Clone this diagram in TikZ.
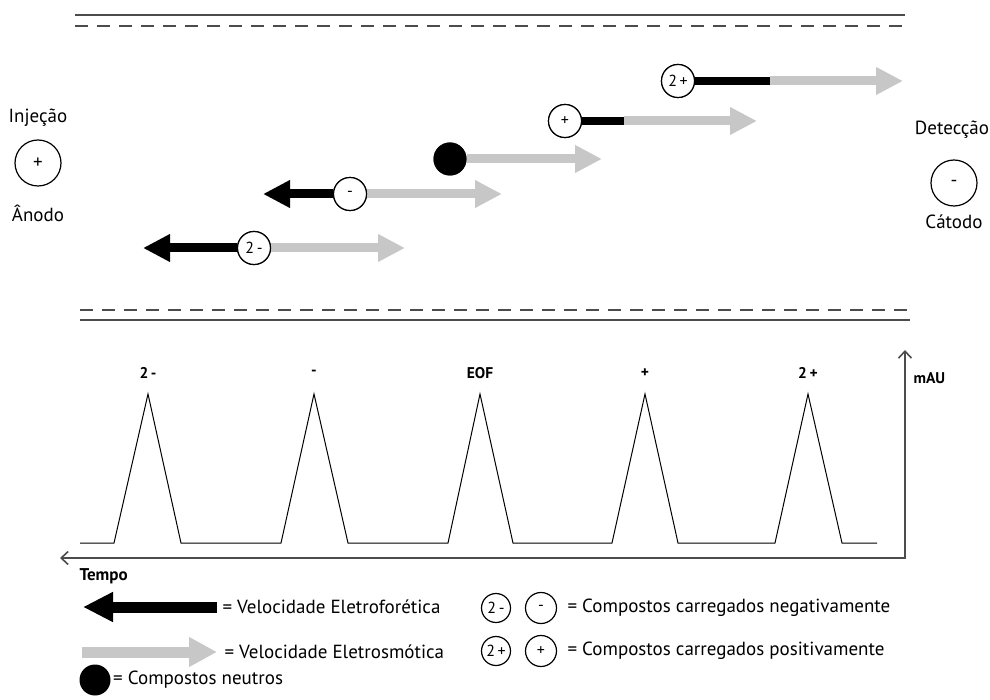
\documentclass[tikz,border=0pt]{standalone}
\usepackage{fontspec}
\setmainfont{PT Sans}
\usetikzlibrary{arrows.meta,positioning}

\tikzset{
  ion/.style={circle, draw, line width=1.2pt, fill=white, inner sep=0pt,
    minimum size=33pt, font=\fontsize{16}{17}\selectfont},
  electrode/.style={circle, draw, line width=1.2pt, inner sep=0pt,
    minimum size=46pt, font=\fontsize{19}{20}\selectfont},
  neutral/.style={circle, fill=black, inner sep=0pt, minimum size=33pt},
  eof/.style={line width=9pt, black!22, -{Triangle[length=27pt,width=26pt]}},
  emf/.style={line width=9pt, black, -{Triangle[length=27pt,width=26pt]}},
  emfbar/.style={line width=8pt, black},
  wall/.style={line width=1.5pt, black!70},
  walldash/.style={wall, dash pattern=on 13pt off 9pt},
  axis/.style={line width=1.6pt, black!70},
  lbl/.style={font=\fontsize{19}{22}\selectfont},
  peak/.style={font=\bfseries\fontsize{15.5}{17}\selectfont},
  key/.style={anchor=west, font=\fontsize{19}{22}\selectfont},
}

\begin{document}
\begin{tikzpicture}[x=1pt, y=-1pt]
  \useasboundingbox (0,0) rectangle (990,700);

  % capillary walls
  \draw[wall] (75,15) -- (905,15);
  \draw[walldash] (75,26) -- (905,26);
  \draw[walldash] (80,310) -- (910,310);
  \draw[wall] (80,320) -- (910,320);

  % electrodes
  \node[electrode] (anode) at (38,163) {+};
  \node[lbl] (inj) at (38,118) {Injeção};
  \node[lbl] (anodo) at (38,213) {Ânodo};
  \node[electrode] (cathode) at (954,183) {-};
  \node[lbl] (det) at (952,130) {Detecção};
  \node[lbl] (catodo) at (954,222) {Cátodo};

  % end points of the velocity arrows
  \coordinate (mmL) at (143,248);  \coordinate (mmR) at (405,248);
  \coordinate (mL)  at (263,194);  \coordinate (mR)  at (502,194);
  \coordinate (nR)  at (602,159);
  \coordinate (pK)  at (624,121);  \coordinate (pR)  at (757,121);
  \coordinate (ppK) at (770,81);   \coordinate (ppR) at (903,81);

  % analytes
  \node[ion] (mm) at (254,248) {2\,-};
  \draw[eof] (mm.east) -- (mmR);
  \draw[emf] (mm.west) -- (mmL);
  \node[ion] at (mm) {2\,-};

  \node[ion] (m) at (350,194) {-};
  \draw[eof] (m.east) -- (mR);
  \draw[emf] (m.west) -- (mL);
  \node[ion] at (m) {-};

  \node[neutral] (n) at (450,159) {};
  \draw[eof] (n.east) -- (nR);
  \node[neutral] at (n) {};

  \node[ion] (p) at (565,121) {+};
  \draw[eof] (pK) -- (pR);
  \draw[emfbar] (p.east) -- (pK);
  \node[ion] at (p) {+};

  \node[ion] (pp) at (678,81) {2\,+};
  \draw[eof] (ppK) -- (ppR);
  \draw[emfbar] (pp.east) -- (ppK);
  \node[ion] at (pp) {2\,+};

  % electropherogram
  \draw[line width=1pt]
    (80,543) -- (114,543) -- (148,394) -- (181,543)
    -- (281,543) -- (314,394) -- (348,543)
    -- (448,543) -- (480,394) -- (513,543)
    -- (612,543) -- (645,394) -- (678,543)
    -- (775,543) -- (808,394) -- (842,543) -- (877,543);
  \node[peak] (pk1) at (148,373) {2\,-};
  \node[peak] (pk2) at (314,373) {-};
  \node[peak] (pk3) at (480,373) {EOF};
  \node[peak] (pk4) at (645,373) {+};
  \node[peak] (pk5) at (808,373) {2\,+};

  % axes
  \coordinate (tEnd) at (60,558);
  \coordinate (corner) at (905,558);
  \coordinate (yEnd) at (905,350);
  \draw[axis, {Straight Barb[length=7pt,width=13pt]}-{Straight Barb[length=7pt,width=13pt]}]
    (tEnd) -- (corner) -- (yEnd);
  \node[peak, anchor=west, font=\bfseries\fontsize{17}{18}\selectfont] (tempo) at (76,576) {Tempo};
  \node[peak, anchor=west] (mau) at (910,378) {mAU};

  % legend
  \coordinate (k1a) at (217,607); \coordinate (k1b) at (83,607);
  \draw[line width=11pt, black, -{Triangle[length=30pt,width=28pt]}] (k1a) -- (k1b);
  \node[key] (t1) at (219,607) {= Velocidade Eletroforética};
  \coordinate (k2a) at (82,652); \coordinate (k2b) at (217,652);
  \draw[line width=11pt, black!22, -{Triangle[length=28pt,width=28pt]}] (k2a) -- (k2b);
  \node[key] (t2) at (221,652) {= Velocidade Eletrosmótica};
  \node[neutral, minimum size=31pt] (k3) at (95,680) {};
  \node[key, right=-1pt of k3] (t3) {= Compostos neutros};

  \node[ion, minimum size=29pt] (c1) at (496,608) {2\,-};
  \node[ion, minimum size=31pt] (c2) at (541,608) {-};
  \node[key] (t4) at (564,608) {= Compostos carregados negativamente};
  \node[ion, minimum size=29pt] (c3) at (496,651) {2\,+};
  \node[ion, minimum size=31pt] (c4) at (541,651) {+};
  \node[key] (t5) at (564,651) {= Compostos carregados positivamente};
\end{tikzpicture}
\end{document}
